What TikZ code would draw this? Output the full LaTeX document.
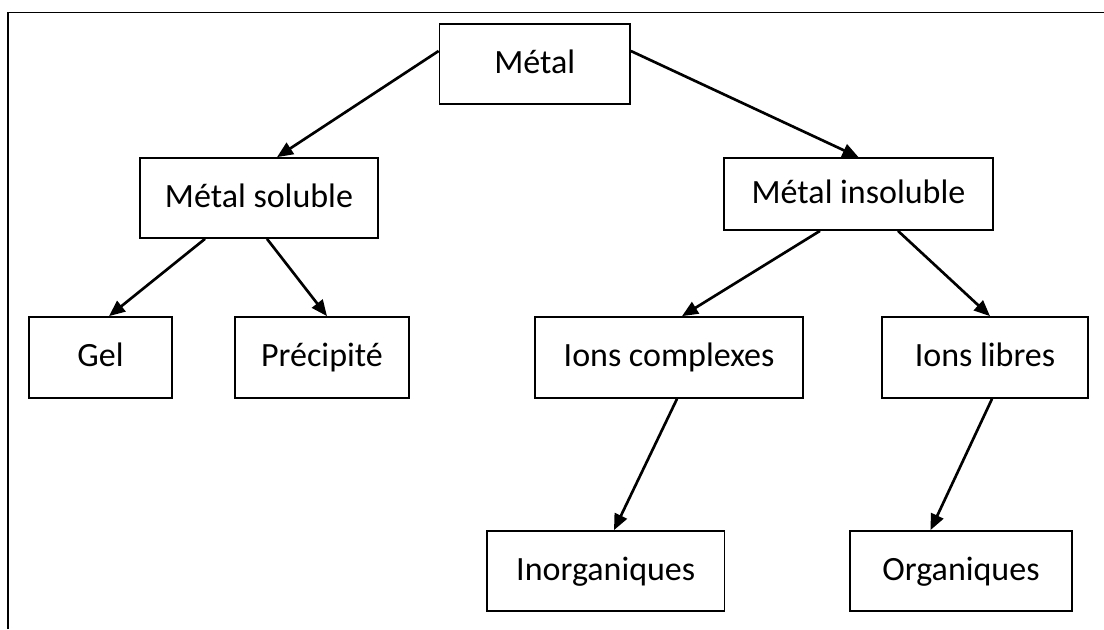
\documentclass[tikz,border=0pt]{standalone}
\usepackage{fontspec}
\setmainfont{Carlito}
\usepackage{tikz}
\usetikzlibrary{positioning, calc, arrows.meta}
\tikzstyle{process} = [rectangle, minimum height=60pt, text height=18pt, text depth=4.5pt, text centered, draw=black, line width=1.3pt, inner sep=0pt]
\tikzstyle{arrow} = [line width=2pt,-{Triangle[length=12pt,width=10pt]}]
\tikzstyle{every node}=[font=\fontsize{25.5}{30}\selectfont]

\begin{document}
\begin{tikzpicture}[x=0.75pt,y=-0.75pt]
		\useasboundingbox (0,0) rectangle (1104,629);
		\draw [line width=1.4pt](8,629) -- (8,12.5) -- (1104,12.5);
		\node (metal) [process, minimum width=142.9pt] at (534.75,64) {Métal};
		\node (sol) [process, minimum width=178.5pt] at (259,198) {Métal soluble};
		\node (insol) [process, minimum width=201.75pt, minimum height=54pt] at (858.5,194) {Métal insoluble};
		\node (gel) [process, minimum width=107.25pt, minimum height=60.75pt] at (100.5,357.5) {Gel};
		\node (prec) [process, minimum width=130.5pt, minimum height=60.75pt] at (322,357.5) {Précipité};
		\node (cplx) [process, minimum width=201pt, minimum height=60.75pt] at (669,357.5) {Ions complexes};
		\node (libre) [process, minimum width=154.5pt, minimum height=60.75pt] at (985,357.5) {Ions libres};
		\node (inorg) [process, minimum width=178.1pt] at (605.75,571) {Inorganiques};
		\node (org) [process, minimum width=166.5pt] at (961,571) {Organiques};
		\draw [arrow]($(metal.west)+(0,-13)$) -- ($(sol.north)+(18,0)$);
		\draw [arrow]($(metal.east)+(0,-13)$) -- (insol.north);
		\draw [arrow]($(sol.south)+(-54,0)$) -- ($(gel.north)+(8.5,0)$);
		\draw [arrow]($(sol.south)+(8,0)$) -- ($(prec.north)+(5,0)$);
		\draw [arrow]($(insol.south)+(-38.5,0)$) -- ($(cplx.north)+(13,0)$);
		\draw [arrow]($(insol.south)+(39.5,0)$) -- ($(libre.north)+(5,0)$);
		\draw [arrow]($(cplx.south)+(8,0)$) -- ($(inorg.north)+(8.25,0)$);
		\draw [arrow]($(libre.south)+(7,0)$) -- ($(org.north)+(-30.5,0)$);
	\end{tikzpicture}
\end{document}
